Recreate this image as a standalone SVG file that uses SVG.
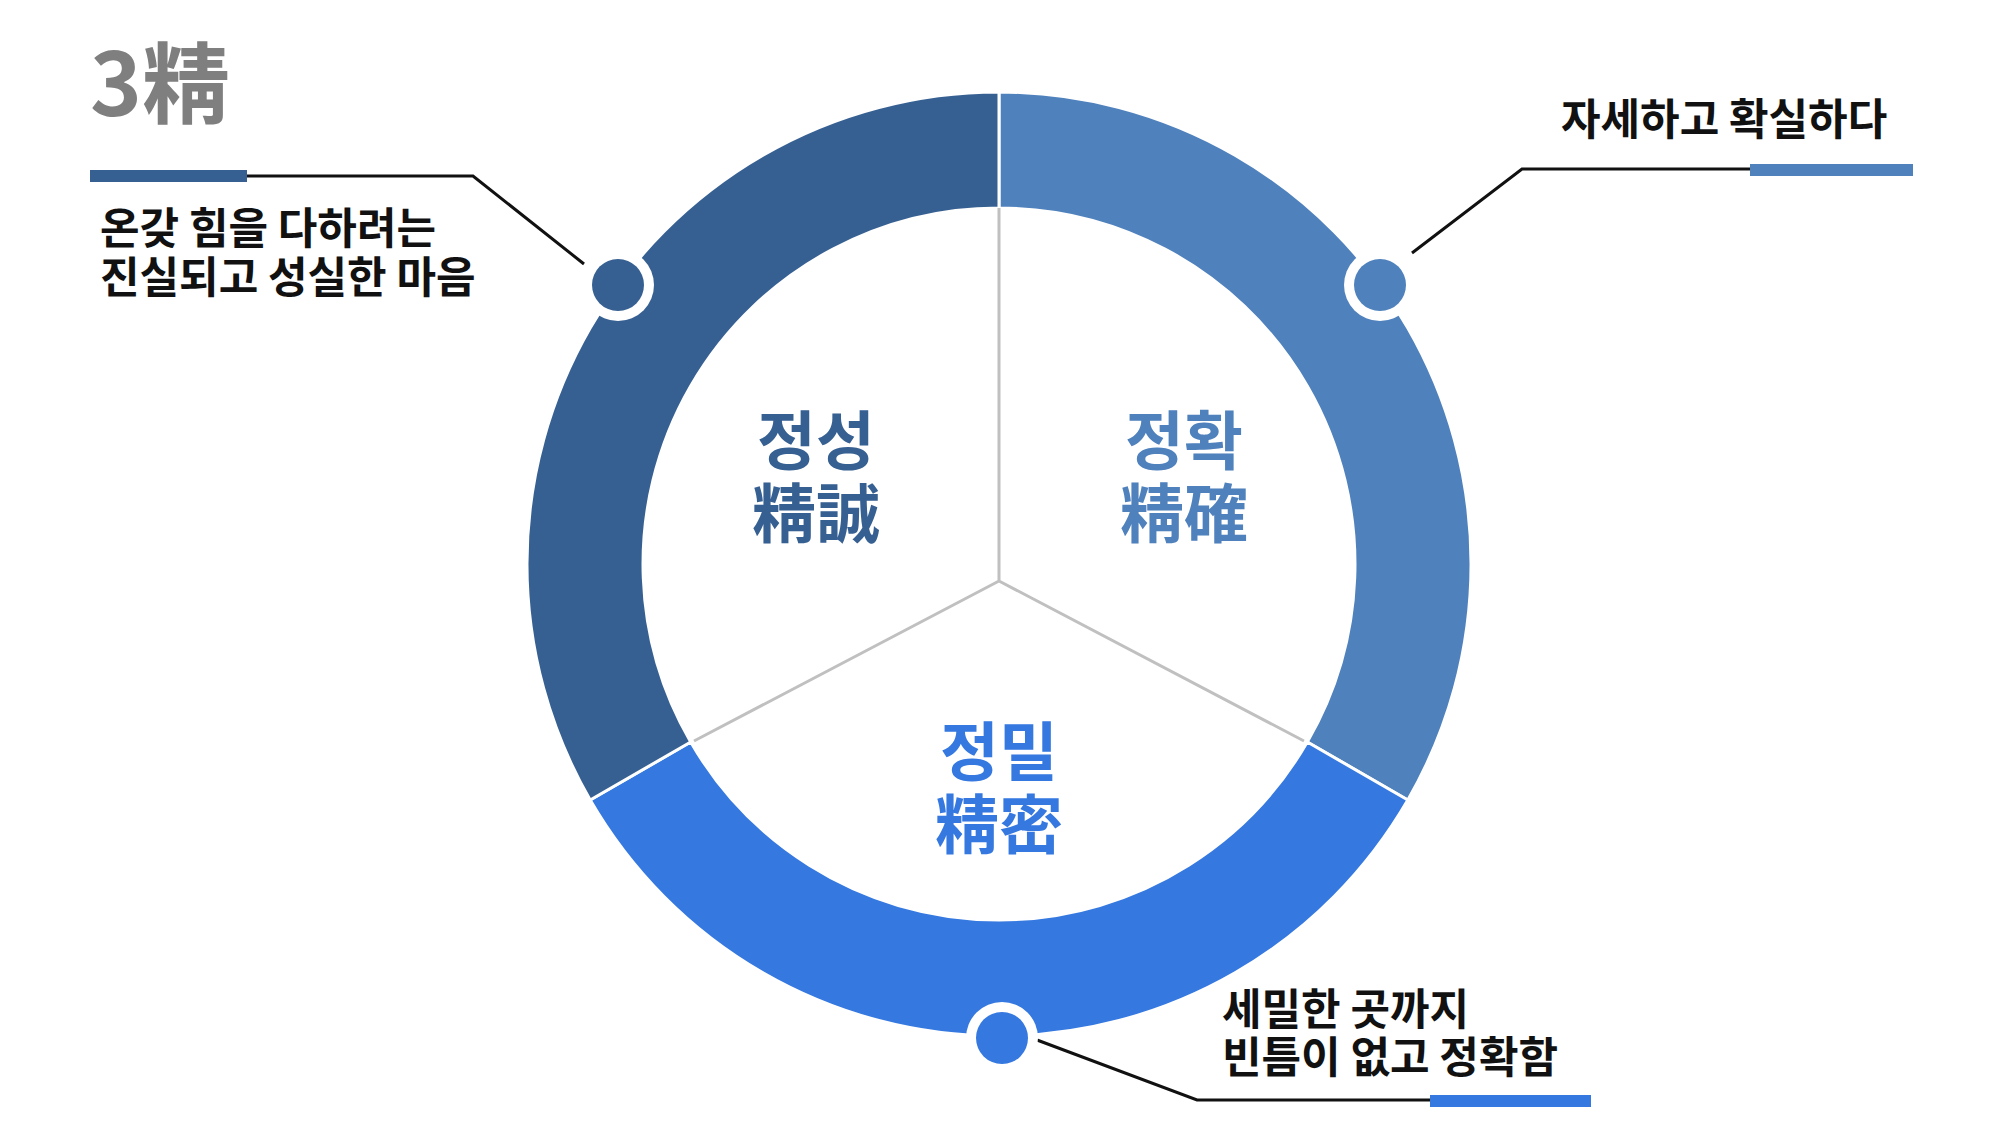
<svg xmlns="http://www.w3.org/2000/svg" width="2000" height="1121" viewBox="0 0 2000 1121">
<style>
.t{font-family:"Noto Sans CJK KR","Noto Sans",sans-serif;font-weight:bold}
.d{font-size:43px;fill:#111}
.l{font-size:64px;text-anchor:middle}
.c{fill:none;stroke:#111;stroke-width:3}
.sp{stroke:#c0c0c0;stroke-width:3;fill:none}
</style>
<rect width="2000" height="1121" fill="#fff"/>
<g transform="translate(-6,0)">
<text x="96" y="116" class="t" font-size="88" fill="#7f7f7f">3精</text>
<g id="ring">
<path d="M1005,92 A472,472 0 0 1 1413.8,800 L1313.3,742 A356,356 0 0 0 1005,208Z" fill="#4f81bd" stroke="#fff" stroke-width="3"/>
<path d="M1413.8,800 A472,472 0 0 1 596.2,800 L696.7,742 A356,356 0 0 0 1313.3,742Z" fill="#3478e0" stroke="#fff" stroke-width="3"/>
<path d="M596.2,800 A472,472 0 0 1 1005,92 L1005,208 A356,356 0 0 0 696.7,742Z" fill="#376092" stroke="#fff" stroke-width="3"/>
<path class="sp" d="M1005,208 V581 M1005,581 L700,741 M1005,581 L1310,741"/>
</g>
<g id="connectors">
<polyline class="c" points="253,176 479,176 590,264"/>
<polyline class="c" points="1418,253 1528,169 1756,169"/>
<polyline class="c" points="1043,1040 1203,1100 1436,1100"/>
</g>
<g id="n1">
<rect x="96" y="170" width="157" height="12" fill="#376092"/>
<circle cx="624" cy="285" r="36" fill="#fff"/><circle cx="624" cy="285" r="26" fill="#376092"/>
<text class="t d" x="106" y="244">온갖 힘을 다하려는</text>
<text class="t d" x="106" y="293">진실되고 성실한 마음</text>
<text class="t l" x="822" y="464" fill="#376092">정성</text>
<text class="t l" x="822" y="537" fill="#376092">精誠</text>
</g>
<g id="n2">
<rect x="1756" y="164" width="163" height="12" fill="#4f81bd"/>
<circle cx="1386" cy="285" r="36" fill="#fff"/><circle cx="1386" cy="285" r="26" fill="#4f81bd"/>
<text class="t d" x="1567" y="135">자세하고 확실하다</text>
<text class="t l" x="1190" y="464" fill="#4f81bd">정확</text>
<text class="t l" x="1190" y="537" fill="#4f81bd">精確</text>
</g>
<g id="n3">
<rect x="1436" y="1095" width="161" height="12" fill="#3478e0"/>
<circle cx="1008" cy="1038" r="36" fill="#fff"/><circle cx="1008" cy="1038" r="26" fill="#3478e0"/>
<text class="t d" x="1228" y="1025">세밀한 곳까지</text>
<text class="t d" x="1228" y="1073">빈틈이 없고 정확함</text>
<text class="t l" x="1005" y="775" fill="#3478e0">정밀</text>
<text class="t l" x="1005" y="848" fill="#3478e0">精密</text>
</g>
</g>
</svg>
